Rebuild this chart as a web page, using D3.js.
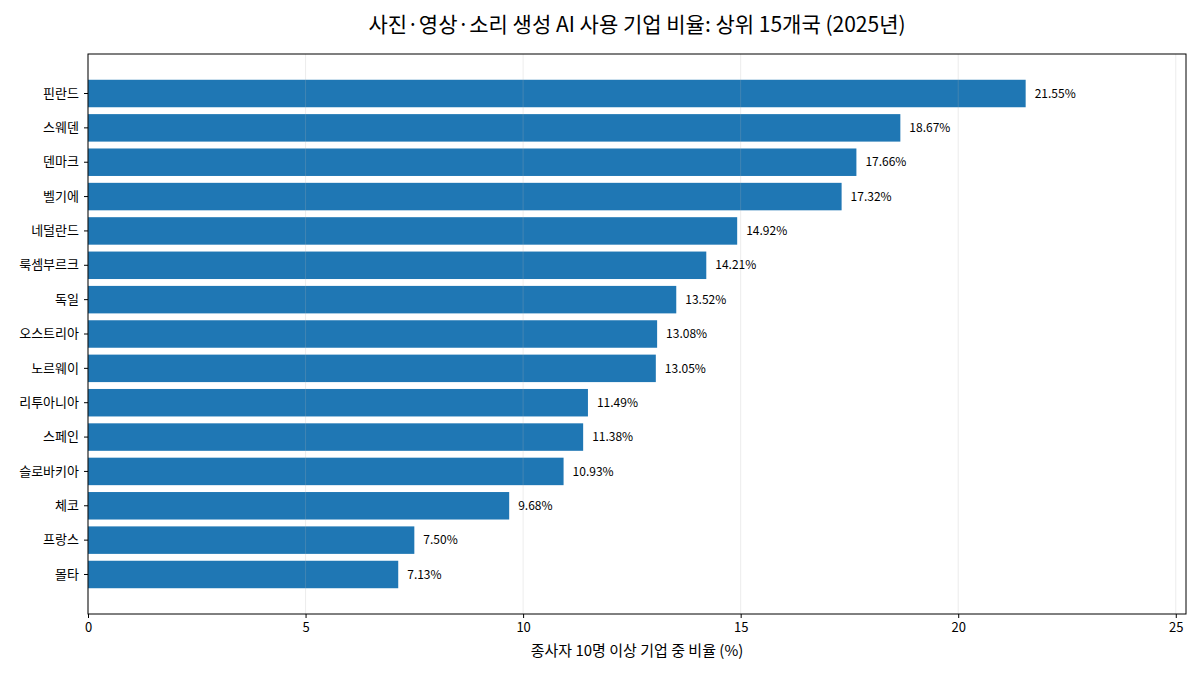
<!DOCTYPE html>
<html>
<head>
<meta charset="utf-8">
<script src="https://cdn.jsdelivr.net/npm/d3@7"></script>
<style>
  body { margin: 0; background: #fff; }
  svg text { font-family: "Noto Sans CJK KR", "Noto Sans", sans-serif; fill: #000; }
</style>
</head>
<body>
<div id="chart-area"></div>
<script>
let countries = ["핀란드", "스웨덴", "덴마크", "벨기에", "네덜란드", "룩셈부르크", "독일",
  "오스트리아", "노르웨이", "리투아니아", "스페인", "슬로바키아", "체코", "프랑스", "몰타"];
let shares = [21.55, 18.67, 17.66, 17.32, 14.92, 14.21, 13.52, 13.08, 13.05, 11.49, 11.38, 10.93, 9.68, 7.50, 7.13];
let xTicks = [0, 5, 10, 15, 20, 25];

let margin = { top: 54, right: 14, bottom: 61, left: 88 };
let width = 1200 - margin.left - margin.right,
  height = 675 - margin.top - margin.bottom;

let svg = d3.select("#chart-area")
  .append("svg")
  .attr("width", 1200)
  .attr("height", 675);

let bigG = svg.append("g")
  .attr("transform", "translate(" + margin.left + "," + margin.top + ")");

let xScale = d3.scaleLinear()
  .domain([0, d3.max(shares) * 1.171])
  .range([0, width]);

let yScale = d3.scaleBand()
  .domain(countries)
  .range([0, height])
  .paddingInner(0.2)
  .paddingOuter(0.75);

// bars
bigG.selectAll("rect.bar")
  .data(shares)
  .enter()
  .append("rect")
  .attr("class", "bar")
  .attr("x", 0)
  .attr("y", function(d, i) { return yScale(countries[i]); })
  .attr("width", function(d) { return xScale(d); })
  .attr("height", yScale.bandwidth())
  .attr("fill", "#1f77b4");

// grid lines (drawn faintly over the bars)
bigG.selectAll("line.grid")
  .data(xTicks)
  .enter()
  .append("line")
  .attr("class", "grid")
  .attr("x1", function(d) { return xScale(d); })
  .attr("x2", function(d) { return xScale(d); })
  .attr("y1", 0)
  .attr("y2", height)
  .attr("stroke", "#b0b0b0")
  .attr("stroke-opacity", 0.3)
  .attr("stroke-width", 0.8);

// value labels
bigG.selectAll("text.value")
  .data(shares)
  .enter()
  .append("text")
  .attr("class", "value")
  .attr("x", function(d) { return xScale(d) + 9; })
  .attr("y", function(d, i) { return yScale(countries[i]) + yScale.bandwidth() / 2; })
  .attr("dy", "0.35em")
  .style("font-size", "12px")
  .text(function(d) { return d.toFixed(2) + "%"; });

// frame
bigG.append("rect")
  .attr("width", width)
  .attr("height", height)
  .attr("fill", "none")
  .attr("stroke", "#000")
  .attr("stroke-width", 1);

// axes
let xAxis = bigG.append("g")
  .attr("transform", "translate(0," + height + ")")
  .call(d3.axisBottom(xScale).tickValues(xTicks).tickSize(4).tickPadding(5));
xAxis.select(".domain").remove();
xAxis.selectAll("text").style("font-size", "13px").attr("fill", "#000");

let yAxis = bigG.append("g")
  .call(d3.axisLeft(yScale).tickSize(4).tickPadding(5));
yAxis.select(".domain").remove();
yAxis.selectAll("text").style("font-size", "13px").attr("fill", "#000");

// title
svg.append("text")
  .attr("x", margin.left + width / 2)
  .attr("y", 32)
  .attr("text-anchor", "middle")
  .style("font-size", "21px")
  .text("사진·영상·소리 생성 AI 사용 기업 비율: 상위 15개국 (2025년)");

// x label
svg.append("text")
  .attr("x", margin.left + width / 2)
  .attr("y", 656)
  .attr("text-anchor", "middle")
  .style("font-size", "15px")
  .text("종사자 10명 이상 기업 중 비율 (%)");
</script>
</body>
</html>
